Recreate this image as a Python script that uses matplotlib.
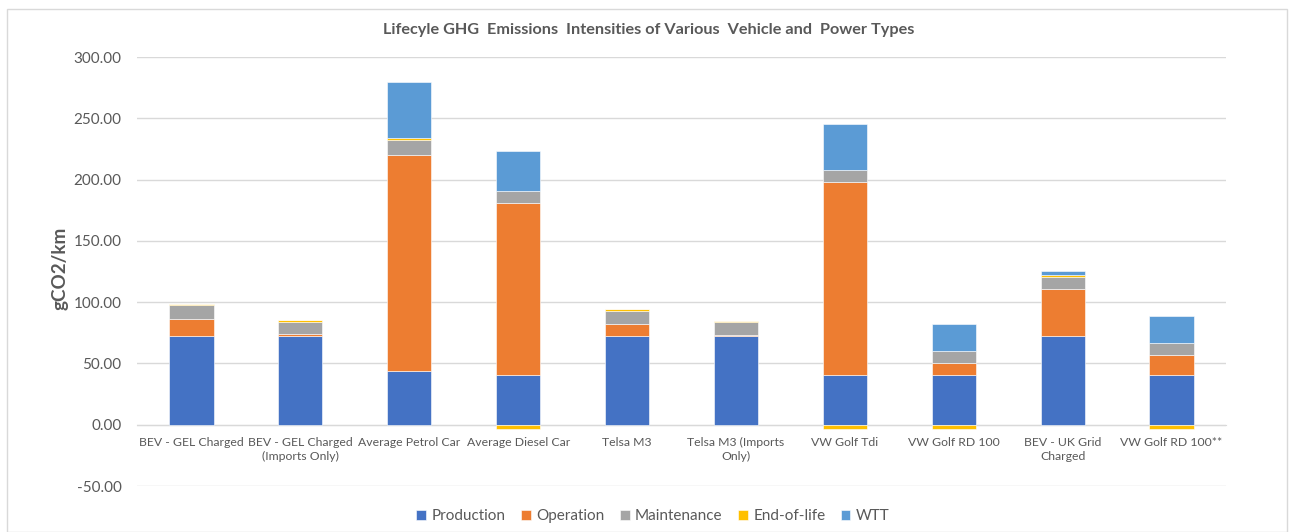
import matplotlib
matplotlib.use("Agg")
import matplotlib.pyplot as plt
from matplotlib.patches import Rectangle
import numpy as np

categories = ["BEV - GEL Charged", "BEV - GEL Charged\n(Imports Only)", "Average Petrol Car",
              "Average Diesel Car", "Telsa M3", "Telsa M3 (Imports\nOnly)", "VW Golf Tdi",
              "VW Golf RD 100", "BEV - UK Grid\nCharged", "VW Golf RD 100**"]
production = [72.5, 72.0, 44.0, 40.7, 72.3, 72.0, 40.5, 40.5, 72.3, 40.5]
operation = [14.0, 2.4, 176.0, 140.0, 10.0, 1.3, 157.8, 9.8, 38.5, 16.3]
maintenance = [10.8, 9.8, 12.3, 9.7, 10.6, 10.9, 9.8, 10.0, 10.1, 9.8]
end_of_life = [1.1, 1.4, 1.6, -3.5, 1.1, 0.8, -3.8, -3.8, 1.3, -3.5]
wtt = [0, 0, 46.0, 32.6, 0, 0, 37.3, 21.7, 3.6, 22.0]

series = [("Production", production, "#4472C4"),
          ("Operation", operation, "#ED7D31"),
          ("Maintenance", maintenance, "#A5A5A5"),
          ("End-of-life", end_of_life, "#FFC000"),
          ("WTT", wtt, "#5B9BD5")]

plt.rcParams['font.family'] = ['Lato', 'DejaVu Sans']
txt = "#595959"

fig = plt.figure(figsize=(12.95, 5.32), dpi=100)
fig.patches.append(Rectangle((7/1295, 0.0), 1280/1295, 1 - 9/532, transform=fig.transFigure,
                             fill=False, edgecolor="#D9D9D9", linewidth=1))
ax = fig.add_axes([137/1295, 1 - 486/532, 1089/1295, 429/532])

x = np.arange(len(categories))
pos_bottom = np.zeros(len(categories))
neg_bottom = np.zeros(len(categories))
for name, vals, col in series:
    vals = np.array(vals, dtype=float)
    bottoms = np.where(vals >= 0, pos_bottom, neg_bottom)
    ax.bar(x, vals, 0.405, bottom=bottoms, color=col, label=name,
           edgecolor="#FFFFFF", linewidth=0.4, zorder=3)
    pos_bottom += np.where(vals > 0, vals, 0)
    neg_bottom += np.where(vals < 0, vals, 0)

ax.set_xlim(-0.5, len(categories) - 0.5)
ax.set_ylim(-50, 300)
ax.set_yticks(np.arange(-50, 301, 50))
ax.set_yticklabels([f"{v:.2f}" for v in np.arange(-50, 301, 50)], fontsize=11, color=txt)
ax.grid(axis="y", color="#D9D9D9", linewidth=1, zorder=0)
for s in ["top", "right", "left"]:
    ax.spines[s].set_visible(False)
ax.spines["bottom"].set_position(("data", 0))
ax.spines["bottom"].set_color("#D9D9D9")
ax.spines["bottom"].set_zorder(1)
ax.tick_params(axis="y", length=0, pad=11)
ax.set_xticks(x)
ax.set_xticklabels(categories, fontsize=8.8, color=txt, linespacing=1.35)
ax.tick_params(axis="x", length=0, pad=9)

fig.text(649 / 1295, 1 - 30 / 532, "Lifecyle GHG  Emissions  Intensities of Various  Vehicle and  Power Types",
         ha="center", va="center", fontsize=11.7, fontweight="bold", color=txt)
fig.text(60 / 1295, 1 - 268 / 532, "gCO2/km", rotation=90, ha="center", va="center",
         fontsize=13.5, fontweight="bold", color=txt)

fig.legend(loc="center", bbox_to_anchor=(653 / 1295, 1 - 516 / 532), ncol=5, frameon=False,
           fontsize=11, handlelength=0.65, handleheight=0.65, handletextpad=0.35,
           columnspacing=1.0, labelcolor=txt)

fig.savefig("out.png", dpi=100, facecolor="white")
